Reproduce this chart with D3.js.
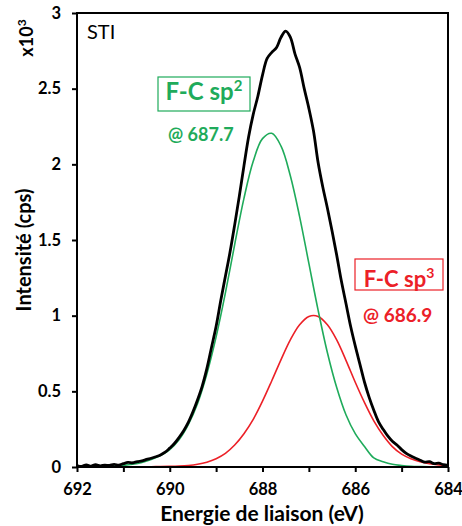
<!DOCTYPE html>
<html><head><meta charset="utf-8">
<script src="https://cdn.jsdelivr.net/npm/d3@7"></script>
<style>
html,body{margin:0;padding:0;background:#fff;}
text{font-family:Lato,"Open Sans",sans-serif;}
</style></head>
<body><svg id="c" width="462" height="526"></svg>
<script>
// Binding energy grids (eV)
const energyFine = [692.0,691.9,691.8,691.7,691.6,691.5,691.4,691.3,691.2,691.1,691.0,690.9,690.8,690.7,690.6,690.5,690.4,690.3,690.2,690.1,690.0,689.9,689.8,689.7,689.6,689.5,689.4,689.3,689.2,689.1,689.0,688.9,688.8,688.7,688.6,688.5,688.4,688.3,688.2,688.1,688.0,687.9,687.8,687.7,687.6,687.5,687.4,687.3,687.2,687.1,687.0,686.9,686.8,686.7,686.6,686.5,686.4,686.3,686.2,686.1,686.0,685.9,685.8,685.7,685.6,685.5,685.4,685.3,685.2,685.1,685.0,684.9,684.8,684.7,684.6,684.5,684.4,684.3,684.2,684.1,684.0];
// Measured envelope (x10^3 cps)
const measured = [0.010,0.004,0.014,0.006,0.015,0.008,0.012,0.010,0.018,0.012,0.022,0.030,0.028,0.036,0.040,0.050,0.058,0.068,0.080,0.098,0.125,0.155,0.195,0.240,0.295,0.365,0.445,0.535,0.650,0.790,0.930,1.100,1.260,1.420,1.600,1.790,1.990,2.180,2.330,2.450,2.590,2.700,2.740,2.770,2.840,2.880,2.840,2.730,2.640,2.500,2.370,2.220,2.010,1.850,1.710,1.560,1.400,1.230,1.080,0.930,0.800,0.680,0.560,0.460,0.375,0.300,0.250,0.205,0.170,0.145,0.115,0.090,0.072,0.058,0.045,0.032,0.035,0.022,0.025,0.015,0.010];
const energyCoarse = [692.0,691.8,691.6,691.4,691.2,691.0,690.8,690.6,690.4,690.2,690.0,689.8,689.6,689.4,689.2,689.0,688.8,688.6,688.4,688.2,688.0,687.8,687.6,687.4,687.2,687.0,686.8,686.6,686.4,686.2,686.0,685.8,685.6,685.4,685.2,685.0,684.8,684.6,684.4,684.2,684.0];
// F-C sp2 component
const sp2 = [0.000,0.001,0.002,0.004,0.007,0.011,0.018,0.030,0.050,0.075,0.115,0.180,0.280,0.420,0.615,0.860,1.150,1.470,1.775,2.020,2.170,2.205,2.120,1.925,1.655,1.345,1.035,0.755,0.525,0.345,0.220,0.135,0.060,0.035,0.018,0.010,0.005,0.003,0.002,0.001,0.000];
// F-C sp3 component
const sp3 = [null,null,null,null,null,0.000,0.001,0.001,0.002,0.003,0.004,0.006,0.010,0.018,0.032,0.055,0.090,0.145,0.220,0.315,0.435,0.570,0.710,0.840,0.940,0.995,0.995,0.940,0.840,0.705,0.560,0.425,0.305,0.210,0.135,0.085,0.055,0.035,0.022,0.014,0.009];
const yTicks = [0,0.5,1,1.5,2,2.5,3];
const xTicksMajor = [692,690,688,686,684];
const xTicksMinor = [692,691,690,689,688,687,686,685,684];

const svg = d3.select("#c");
const L=77, R=448, T=13, B=467;
const x = d3.scaleLinear().domain([692,684]).range([L,R]);
const y = d3.scaleLinear().domain([0,3]).range([B,T]);

const green="#1fab5b", red="#ec2027";

// curves
const mk = (xs, ys) => xs.map((e,i)=>({e, v:ys[i]})).filter(d=>d.v!=null);
const line = d3.line().x(d=>x(d.e)).y(d=>y(d.v)).curve(d3.curveCatmullRom.alpha(0.5));
svg.append("path").datum(mk(energyCoarse,sp3)).attr("d",line).attr("fill","none").attr("stroke",red).attr("stroke-width",1.6);
svg.append("path").datum(mk(energyCoarse,sp2)).attr("d",line).attr("fill","none").attr("stroke",green).attr("stroke-width",1.6);
svg.append("path").datum(mk(energyFine,measured)).attr("d",line).attr("fill","none").attr("stroke","#000").attr("stroke-width",2.8).attr("stroke-linejoin","round");

// axes
const yAxis = d3.axisLeft(y).tickValues(yTicks).tickSize(5).tickPadding(11).tickFormat(d3.format("~g"));
const gy = svg.append("g").attr("transform",`translate(${L},0)`).call(yAxis);
// minor ticks (unlabelled)
const gxm = svg.append("g").attr("transform",`translate(0,${B})`)
  .call(d3.axisBottom(x).tickValues(xTicksMinor.filter(d=>!xTicksMajor.includes(d))).tickSize(5).tickFormat(""));
gxm.selectAll("text").remove();
const gx = svg.append("g").attr("transform",`translate(0,${B})`)
  .call(d3.axisBottom(x).tickValues(xTicksMajor).tickSize(5).tickPadding(11).tickFormat(d3.format("d")));
[gx,gy,gxm].forEach(g=>{
  g.select(".domain").remove();
  g.selectAll(".tick line").attr("stroke","#000").attr("stroke-width",2);
  g.selectAll(".tick text").attr("fill","#000").style("font-size","16.5px").style("font-weight","700").style("font-family","Lato");
});
// frame
svg.append("rect").attr("x",L).attr("y",T).attr("width",R-L).attr("height",B-T).attr("fill","none").attr("stroke","#000").attr("stroke-width",2);

// texts
svg.append("text").attr("x",87).attr("y",39).text("STI").style("font-size","20px");
svg.append("text").attr("transform","translate(33,38) rotate(-90)").attr("text-anchor","middle").style("font-size","18px").style("font-weight","700")
  .html('x10<tspan dy="-7" font-size="12">3</tspan>');
svg.append("text").attr("transform","translate(31,250) rotate(-90)").attr("text-anchor","middle").style("font-size","20px").style("font-weight","700").text("Intensité (cps)");
svg.append("text").attr("x",262).attr("y",520.5).attr("text-anchor","middle").style("font-size","21px").style("font-weight","700").text("Energie de liaison (eV)");

// labels
svg.append("rect").attr("x",158).attr("y",77).attr("width",92).attr("height",34).attr("fill","#fff").attr("stroke",green).attr("stroke-width",1.2);
svg.append("text").attr("x",204).attr("y",100).attr("text-anchor","middle").attr("fill",green).style("font-size","24px").style("font-weight","700")
  .html('F-C sp<tspan dy="-9" font-size="15">2</tspan>');
svg.append("text").attr("x",168).attr("y",141).attr("fill",green).style("font-size","18px").style("font-weight","700").text("@ 687.7");
svg.append("rect").attr("x",355).attr("y",259).attr("width",88).attr("height",31).attr("fill","#fff").attr("stroke",red).attr("stroke-width",1.2);
svg.append("text").attr("x",399).attr("y",287).attr("text-anchor","middle").attr("fill",red).style("font-size","22px").style("font-weight","700")
  .html('F-C sp<tspan dy="-9" font-size="14">3</tspan>');
svg.append("text").attr("x",363).attr("y",322).attr("fill",red).style("font-size","19px").style("font-weight","700").text("@ 686.9");
</script></body></html>
